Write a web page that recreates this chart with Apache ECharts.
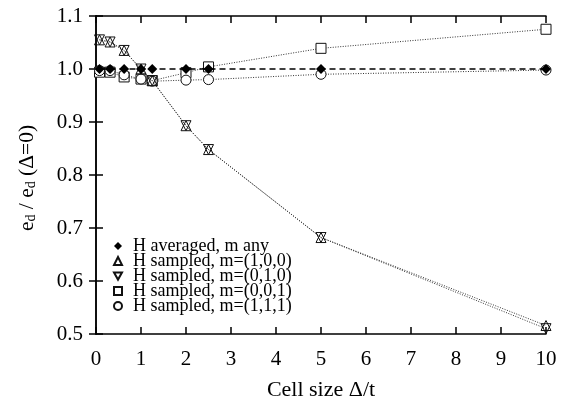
<!DOCTYPE html>
<html>
<head>
<meta charset="utf-8">
<script src="https://cdn.jsdelivr.net/npm/echarts@6/dist/echarts.min.js"></script>
<style>
  html, body { margin: 0; padding: 0; background: #fff; }
  #chart { width: 568px; height: 407px; }
</style>
</head>
<body>
<div id="chart"></div>
<script>
// cell sizes (Delta/t)
const cellSize = [0.078, 0.3125, 0.625, 1, 1.25, 2, 2.5, 5, 10]

// e_d / e_d(Delta=0) per series
const hAveraged = [1.0, 1.0, 1.0, 1.0, 1.0, 1.0, 1.0, 1.0, 1.0]
const hSampled100 = [1.055, 1.051, 1.035, 1.0, 0.978, 0.893, 0.848, 0.682, 0.516]
const hSampled010 = [1.055, 1.051, 1.035, 1.0, 0.978, 0.893, 0.848, 0.682, 0.510]
const hSampled001 = [0.994, 0.994, 0.985, 0.981, 0.978, 0.993, 1.004, 1.039, 1.075]
const hSampled111 = [0.997, 0.997, 0.989, 0.981, 0.977, 0.979, 0.980, 0.990, 0.998]

const xTicks = [0, 1, 2, 3, 4, 5, 6, 7, 8, 9, 10]
const yTicks = [0.5, 0.6, 0.7, 0.8, 0.9, 1.0, 1.1]

const seriesNames = [
  'H averaged, m any',
  'H sampled, m=(1,0,0)',
  'H sampled, m=(0,1,0)',
  'H sampled, m=(0,0,1)',
  'H sampled, m=(1,1,1)'
]

const font = 'Liberation Serif'
const pair = vals => cellSize.map((x, i) => [x, vals[i]])

const chart = echarts.init(document.getElementById('chart'))

const openItem = { color: '#fff', borderColor: '#111', borderWidth: 1 }
const clearItem = { color: 'rgba(255,255,255,0)', borderColor: '#111', borderWidth: 1 }
const dotted = { color: '#333', width: 1, type: [1, 1.5] }

const axisCommon = {
  axisLine: { lineStyle: { color: '#000', width: 1.5 } },
  axisTick: { inside: true, length: 7, lineStyle: { color: '#000', width: 1.5 } },
  splitLine: { show: false }
}

const option = {
  backgroundColor: '#fff',
  animation: false,
  grid: { left: 96, top: 16, right: 22, bottom: 73 },
  xAxis: [{
    type: 'value', min: 0, max: 10, interval: 1,
    name: 'Cell size Δ/t', nameLocation: 'middle', nameGap: 45,
    nameTextStyle: { fontFamily: font, fontSize: 22, color: '#000' },
    axisLabel: { fontFamily: font, fontSize: 21, color: '#000', margin: 15,
      formatter: v => xTicks.includes(v) ? String(v) : '' },
    ...axisCommon
  }, {
    type: 'value', min: 0, max: 10, interval: 1, position: 'top',
    axisLabel: { show: false }, ...axisCommon
  }],
  yAxis: [{
    type: 'value', min: 0.5, max: 1.1, interval: 0.1,
    name: '{m|e}{s|d}{m| / e}{s|d}{m| (Δ=0)}',
    nameLocation: 'middle', nameGap: 56, nameRotate: 90,
    nameTextStyle: {
      fontFamily: font, color: '#000', padding: [0, 6, 0, 0],
      rich: {
        m: { fontFamily: font, fontSize: 21.5, color: '#000', lineHeight: 26 },
        s: { fontFamily: font, fontSize: 14, color: '#000', lineHeight: 26, padding: [8, 0, 0, 0] }
      }
    },
    axisLabel: { fontFamily: font, fontSize: 21, color: '#000', margin: 13,
      formatter: v => yTicks.some(t => Math.abs(t - v) < 1e-6) ? v.toFixed(1) : '' },
    ...axisCommon
  }, {
    type: 'value', min: 0.5, max: 1.1, interval: 0.1, position: 'right',
    axisLabel: { show: false }, ...axisCommon
  }],
  legend: {
    orient: 'vertical', left: 108, top: 232, itemGap: -3,
    itemWidth: 8, itemHeight: 8,
    textStyle: { fontFamily: font, fontSize: 18, color: '#000', lineHeight: 15, padding: [0, 0, 0, 6] },
    data: [
      { name: seriesNames[0], icon: 'diamond' },
      { name: seriesNames[1], icon: 'triangle' },
      { name: seriesNames[2], icon: 'path://M0,0 L10,0 L5,9 Z' },
      { name: seriesNames[3], icon: 'rect' },
      { name: seriesNames[4], icon: 'circle' }
    ]
  },
  series: [
    {
      name: seriesNames[3], type: 'line', data: pair(hSampled001), z: 2,
      symbol: 'rect', symbolSize: 10, lineStyle: dotted, itemStyle: openItem
    },
    {
      name: seriesNames[4], type: 'line', data: pair(hSampled111), z: 3,
      symbol: 'circle', symbolSize: 10, lineStyle: dotted, itemStyle: openItem
    },
    {
      name: seriesNames[1], type: 'line', data: pair(hSampled100), z: 4,
      symbol: 'triangle', symbolSize: 10, lineStyle: dotted, itemStyle: clearItem
    },
    {
      name: seriesNames[2], type: 'line', data: pair(hSampled010), z: 4,
      symbol: 'triangle', symbolRotate: 180, symbolSize: 10, lineStyle: dotted,
      itemStyle: clearItem
    },
    {
      name: seriesNames[0], type: 'line', data: pair(hAveraged), z: 5,
      symbol: 'diamond', symbolSize: 10,
      lineStyle: { color: '#000', width: 1.3, type: [6, 4] },
      itemStyle: { color: '#000', borderColor: '#000', borderWidth: 0 }
    }
  ]
}

chart.setOption(option)
</script>
</body>
</html>
